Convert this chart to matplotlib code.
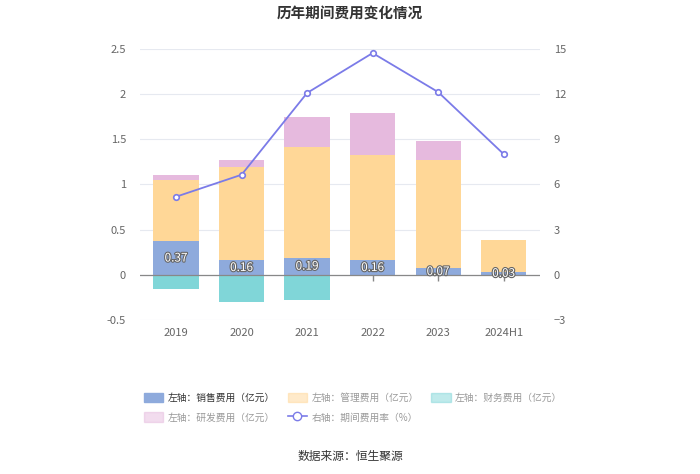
import numpy as np
import matplotlib.pyplot as plt
import matplotlib.patheffects as pe
from matplotlib.lines import Line2D
from matplotlib.patches import Patch

plt.rcParams['font.family'] = ['Noto Sans CJK SC', 'DejaVu Sans']

years = ['2019', '2020', '2021', '2022', '2023', '2024H1']
sales = [0.37, 0.16, 0.19, 0.16, 0.07, 0.03]
admin = [0.68, 1.03, 1.22, 1.17, 1.20, 0.36]
finance = [-0.16, -0.30, -0.28, -0.01, -0.01, -0.01]
rnd = [0.05, 0.08, 0.34, 0.46, 0.21, 0.0]
rate = [5.18, 6.64, 12.07, 14.72, 12.13, 8.01]

c_sales = '#8eaadc'
c_admin = '#ffd797'
c_fin = '#80d6d8'
c_rnd = '#e6bade'
c_line = '#7b7be8'

fig = plt.figure(figsize=(7, 4.74), dpi=100)
ax = fig.add_axes([0.2, 0.325, 0.571, 0.572])
ax2 = ax.twinx()

x = np.arange(len(years))
w = 0.69
sales = np.array(sales)
admin = np.array(admin)
ax.bar(x, sales, w, color=c_sales, zorder=3)
ax.bar(x, admin, w, bottom=sales, color=c_admin, zorder=3)
ax.bar(x, rnd, w, bottom=sales + admin, color=c_rnd, zorder=3)
ax.bar(x, finance, w, color=c_fin, zorder=3)

for i, v in enumerate(sales):
    ax.text(x[i], v / 2, '%.2f' % v, ha='center', va='center', fontsize=8.5,
            color='white', zorder=5,
            path_effects=[pe.withStroke(linewidth=1.6, foreground='#666666')])

ax.axhline(0, color='#888888', lw=0.9, zorder=4)
ax.plot(x, np.zeros(len(x)), ls='none', marker=3, ms=4, color='#888888', zorder=2)

ax.set_ylim(-0.5, 2.5)
ax.set_yticks([-0.5, 0, 0.5, 1, 1.5, 2, 2.5])
ax.set_yticklabels(['-0.5', '0', '0.5', '1', '1.5', '2', '2.5'])
ax.set_xlim(-0.55, 5.55)
ax.set_xticks(x)
ax.set_xticklabels(years)
ax.grid(axis='y', color='#e6e9f0', lw=0.8, zorder=0)
ax.tick_params(length=0, labelsize=8, colors='#666666', pad=6)
ax.tick_params(axis='y', pad=10)

ax2.plot(x, rate, color=c_line, lw=1.3, marker='o', ms=4, mfc='white',
         mec=c_line, mew=1.2, zorder=6)
ax2.set_ylim(-3, 15)
ax2.set_yticks([-3, 0, 3, 6, 9, 12, 15])
ax2.tick_params(length=0, labelsize=8, colors='#666666', pad=10)

for a in (ax, ax2):
    for s in a.spines.values():
        s.set_visible(False)
ax.set_zorder(1)
ax2.set_zorder(2)
ax.patch.set_visible(False)

fig.text(0.5, 0.972, '历年期间费用变化情况', ha='center', va='center',
         fontsize=10.5, fontweight='bold', color='#333333')
fig.text(0.5, 0.036, '数据来源：恒生聚源', ha='center', va='center',
         fontsize=8.5, color='#333333')

h_sales = Patch(color=c_sales, label='左轴：销售费用（亿元）')
h_admin = Patch(color=c_admin, alpha=0.5, label='左轴：管理费用（亿元）')
h_fin = Patch(color=c_fin, alpha=0.5, label='左轴：财务费用（亿元）')
h_rnd = Patch(color=c_rnd, alpha=0.5, label='左轴：研发费用（亿元）')
h_rate = Line2D([], [], color=c_line, marker='o', mfc='white', mec=c_line, ms=6,
                lw=1.2, label='右轴：期间费用率（%）')
# legend fills column by column, so order for row-wise reading
handles = [h_sales, h_rnd, h_admin, h_rate, h_fin]
leg = fig.legend(handles=handles, ncol=3, loc='upper left',
                 bbox_to_anchor=(0.193, 0.19), frameon=False, fontsize=7,
                 handlelength=2.0, handleheight=1.1, columnspacing=1.3,
                 labelspacing=1.0, handletextpad=0.45)
for t in leg.get_texts():
    t.set_color('#333333' if t.get_text().startswith('左轴：销售') else '#999999')

fig.savefig('out.png', dpi=100)
